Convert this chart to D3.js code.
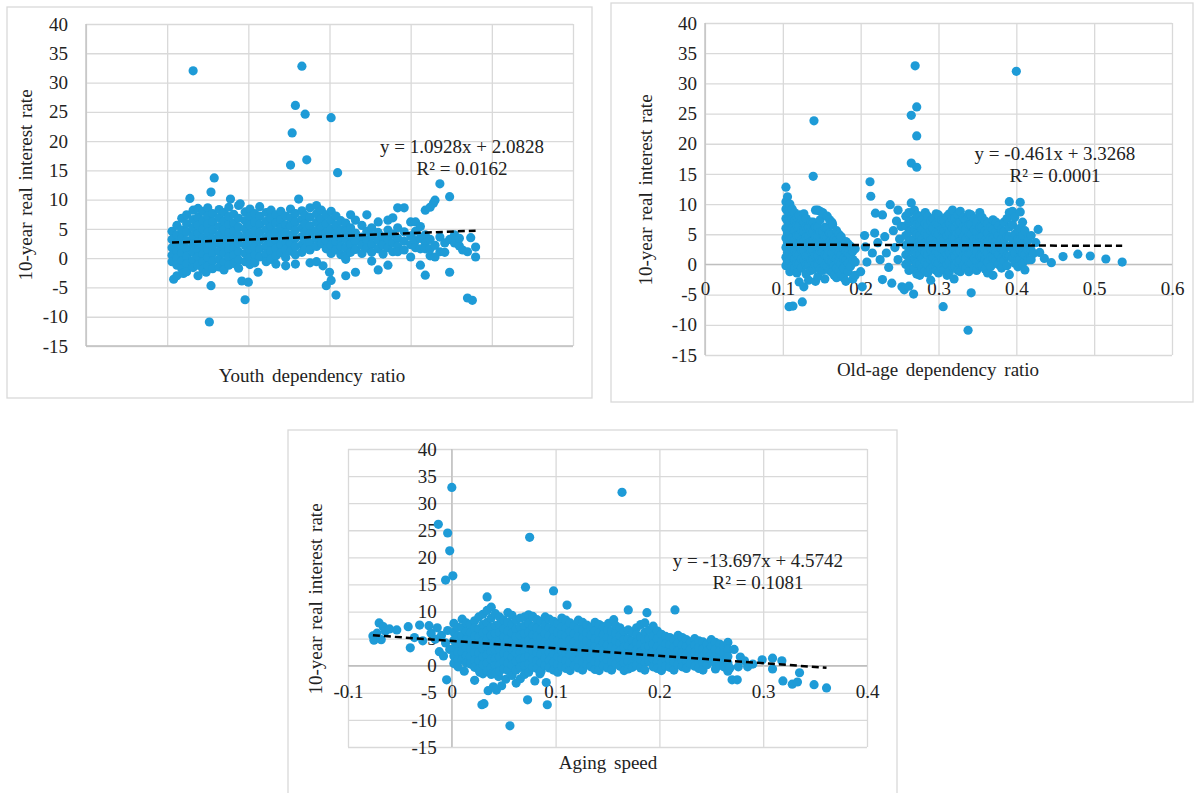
<!DOCTYPE html>
<html>
<head>
<meta charset="utf-8">
<script src="https://cdn.jsdelivr.net/npm/d3@7"></script>
<style>
  body { margin: 0; background: #fff; }
  svg { display: block; }
</style>
</head>
<body>
<div id="chart"></div>
<script>
/* global d3 */

// shared y axis
const yTicks = [-15, -10, -5, 0, 5, 10, 15, 20, 25, 30, 35, 40];
const yTickLabels = ['-15', '-10', '-5', '0', '5', '10', '15', '20', '25', '30', '35', '40'];

// youth dependency ratio: [x, [y values at that x]]
const youthXTicks = [0, 0.5, 1, 1.5, 2, 2.5, 3];
const youthColumns = [
  [0.53, [4.6, 3.2, 1.8, 0.5, -0.6]], [0.54, [-3.6]],
  [0.56, [5.6, 4.0, 2.6, 1.2, 0.0, -1.2, -3.0]],
  [0.59, [6.8, 4.8, 3.4, 2.0, 0.8, -0.5, -1.8]], [0.60, [-2.6]],
  [0.62, [7.4, 5.9, 4.5, 3.0, 1.6, 0.3, -1.0, -2.3]], [0.64, [10.2]],
  [0.66, [32.0, 8.2, 6.6, 5.2, 3.8, 2.4, 1.0, -0.4, -1.6]],
  [0.69, [8.5, 7.0, 5.6, 4.2, 2.8, 1.4, 0.2, -1.2, -3.0]],
  [0.72, [8.0, 6.4, 5.0, 3.5, 2.0, 0.7, -0.6, -1.9]], [0.74, [-2.4]],
  [0.75, [8.6, 7.2, 5.8, 4.4, 3.0, 1.5, 0.1, -1.3]], [0.76, [-10.9]],
  [0.77, [11.3, -4.7]],
  [0.78, [7.6, 6.2, 4.8, 3.4, 2.1, 0.8, -0.5, -1.8]], [0.79, [13.7]],
  [0.82, [8.3, 6.9, 5.4, 4.0, 2.6, 1.2, -0.2, -1.5]],
  [0.85, [7.8, 6.3, 4.9, 3.5, 2.2, 0.9, -0.6, -2.0]],
  [0.88, [8.7, 7.1, 5.7, 4.3, 2.9, 1.5, 0.2, -1.2]], [0.89, [10.1]],
  [0.91, [7.5, 6.0, 4.6, 3.2, 1.8, 0.5, -0.9]],
  [0.94, [9.0, 6.8, 5.3, 3.9, 2.5, 1.1, -0.3, -1.7]], [0.95, [9.3]], [0.96, [-3.9]],
  [0.98, [7.9, 6.4, 5.0, 3.6, 2.2, 0.8, -0.6, -7.1]], [1.00, [-4.1]],
  [1.01, [8.4, 7.0, 5.6, 4.1, 2.7, 1.3, 0.0, -1.1]],
  [1.04, [7.6, 6.1, 4.7, 3.3, 1.9, 0.5, -0.8]], [1.06, [-2.4]],
  [1.07, [8.8, 7.2, 5.8, 4.4, 3.0, 1.6, 0.2]],
  [1.11, [7.8, 6.3, 4.9, 3.5, 2.1, 0.7, -0.6]],
  [1.14, [8.2, 6.8, 5.4, 4.0, 2.6, 1.2, -0.2]],
  [1.17, [7.4, 6.0, 4.5, 3.1, 1.7, 0.4, -1.0]],
  [1.20, [8.0, 6.6, 5.2, 3.8, 2.3, 0.9]],
  [1.23, [7.2, 5.7, 4.3, 2.9, 1.5, 0.1, -1.3]],
  [1.26, [15.9, 8.4, 6.9, 5.5, 4.0, 2.6, 1.2]], [1.27, [21.4]],
  [1.29, [26.1, 7.6, 6.2, 4.8, 3.4, 2.0, 0.6, -1.0]], [1.31, [10.1]],
  [1.33, [32.8, 8.1, 6.6, 5.2, 3.7, 2.3, 1.0]],
  [1.35, [24.6, 7.3, 5.9, 4.5, 3.0, 1.7]], [1.36, [16.8]],
  [1.38, [8.6, 7.0, 5.5, 4.1, 2.6, 1.4, -0.8]],
  [1.42, [9.0, 7.6, 6.1, 4.7, 3.3, 2.0, -0.6]],
  [1.45, [8.2, 6.7, 5.3, 3.9, 2.5]], [1.46, [-1.3]],
  [1.48, [7.4, 5.9, 4.4, 3.0, 1.6, -4.7]], [1.50, [-2.4]],
  [1.51, [24.0, 8.0, 6.5, 5.0, 3.6, 2.2, 0.8, -3.8]],
  [1.54, [7.2, 5.6, 4.2, 2.8, 1.4, -6.3]], [1.55, [14.6]],
  [1.57, [6.4, 4.9, 3.4, 2.0, 0.6]],
  [1.60, [6.0, 4.6, 3.2, 1.8, 0.4, -0.2, -3.0]],
  [1.63, [7.4, 5.2, 3.8, 2.4, 1.0]],
  [1.66, [6.5, 4.3, 2.9, 1.5, -2.4]],
  [1.70, [5.6, 3.6, 2.2, 0.8]],
  [1.73, [7.4, 4.6, 3.1, 1.7]],
  [1.76, [5.2, 3.8, 2.4, 1.0, -0.5]],
  [1.80, [6.2, 4.4, 3.0, 1.6, -2.0]],
  [1.83, [3.6, 2.2, 0.7]],
  [1.86, [6.5, 4.8, 3.2, 1.8, -1.2]],
  [1.89, [6.9, 4.1, 2.6, 1.1]],
  [1.92, [8.6, 5.2, 3.4, 2.0, 1.1]],
  [1.96, [8.6, 4.5, 2.9, 1.4]],
  [2.00, [6.2, 3.8, 2.3, 0.2]],
  [2.03, [6.2, 4.6, 3.0, 1.8]],
  [2.06, [5.4, 3.4, 1.6, -1.2]],
  [2.09, [8.2, 4.0, 2.6, 1.6, -2.9]],
  [2.12, [8.7, 3.2, 1.6, 0.4]], [2.14, [9.4]],
  [2.15, [9.9, 2.2, 0.2]],
  [2.18, [12.7, 3.6, 1.1]],
  [2.21, [2.6, 1.0]],
  [2.24, [10.5, 3.2, -2.4]],
  [2.27, [4.0, 2.6]], [2.28, [3.1]],
  [2.30, [2.1, 3.4]], [2.32, [1.4]],
  [2.35, [1.1, -6.8]], [2.37, [3.5]], [2.38, [-7.2]],
  [2.40, [1.9, 0.2]]
];

// old-age dependency ratio
const oldAgeXTicks = [0, 0.1, 0.2, 0.3, 0.4, 0.5, 0.6];
const oldAgeXLabels = ['0', '0.1', '0.2', '0.3', '0.4', '0.5', '0.6'];
const oldAgeColumns = [
  [0.104, [12.8, 10.4, 9.2, 7.6, 6.0, 4.4, 2.8, 1.2, -0.2]],
  [0.106, [11.2, 8.8, 7.2, 5.2, 3.6, 2.0, 0.4]],
  [0.108, [-7.0]],
  [0.109, [10.0, 8.4, 6.8, 5.2, 3.6, 2.0, 0.5, -1.2]],
  [0.112, [9.2, 7.6, 6.0, 4.4, 2.8, 1.2, -0.3]],
  [0.113, [-6.9]],
  [0.115, [8.6, 7.2, 5.6, 4.0, 2.4, 0.9, -0.6]],
  [0.118, [7.8, 6.4, 4.8, 3.2, 1.6, 0.1, -1.4]],
  [0.121, [8.2, 6.4, 4.8, 3.2, 1.6, 0.1, -2.9]],
  [0.124, [7.4, 5.6, 4.0, 2.4, 0.9, -0.6]],
  [0.125, [-6.2]],
  [0.127, [8.4, 7.0, 5.4, 3.8, 2.2, 0.7, -3.7]],
  [0.130, [7.6, 6.2, 4.6, 3.0, 1.4, -0.1, -1.6]],
  [0.133, [6.2, 4.6, 3.0, 1.5, -0.2, -2.6]],
  [0.136, [7.0, 5.4, 3.8, 2.2, 0.7, -1.0]],
  [0.139, [14.6, 7.0, 5.4, 3.8, 2.3, 0.8, -0.8]],
  [0.140, [23.8]],
  [0.142, [9.0, 6.2, 4.6, 3.0, 1.5, 0.0, -2.8]],
  [0.145, [9.0, 6.2, 4.6, 3.0, 1.5, 0.0, -2.0]],
  [0.148, [8.8, 7.4, 5.4, 3.8, 2.2, 0.7, -0.8]],
  [0.151, [8.6, 5.4, 3.8, 2.2, 0.7, -1.0]], [0.152, [8.4]],
  [0.154, [6.2, 4.6, 3.0, 1.5, -0.2, -2.4]],
  [0.157, [8.0, 6.0, 4.5, 2.9, 1.4, -0.3]],
  [0.160, [7.4, 5.2, 3.7, 2.2, 0.6, -1.0]],
  [0.163, [7.0, 5.0, 3.5, 2.0, 0.5, -1.3]], [0.164, [6.6]],
  [0.166, [4.2, 2.8, 1.2, -0.2, -1.8]],
  [0.169, [5.6, 4.0, 2.5, 1.0, -0.6, -2.2]],
  [0.172, [5.0, 3.6, 2.0, 0.5, -1.0]],
  [0.175, [4.6, 3.1, 1.6, 0.1, -1.6]],
  [0.178, [2.6, 1.0, -0.6, -2.2]],
  [0.181, [3.8, 2.2, 0.7, -2.8]],
  [0.184, [3.4, 1.9, 0.2, -1.2]],
  [0.187, [3.0, 1.5, -0.3]],
  [0.190, [2.2, 0.8, -2.4]],
  [0.193, [2.6, 0.4, -1.8]],
  [0.200, [-1.2]], [0.202, [-3.7]], [0.205, [4.8]], [0.206, [2.9]], [0.208, [0.4]],
  [0.212, [13.7]], [0.213, [11.3]], [0.215, [1.9]], [0.218, [5.2]], [0.219, [8.5]],
  [0.222, [3.6]], [0.225, [0.8]], [0.228, [8.2, -2.5]], [0.231, [4.6]], [0.233, [1.9]],
  [0.236, [-0.5]], [0.238, [9.9]], [0.240, [-3.1]], [0.242, [5.6]], [0.244, [2.8]],
  [0.246, [7.2]], [0.248, [9.0, 0.8]], [0.250, [4.2]], [0.252, [6.3]], [0.253, [-3.7]],
  [0.256, [-4.2]],
  [0.258, [8.0, 6.4, 4.8, 3.2, 1.6, 0.0]],
  [0.262, [8.6, 7.0, 5.4, 3.8, 2.2, 0.6, -1.0, -3.6]],
  [0.265, [24.7, 16.8, 10.2, 7.2, 5.6, 4.0, 2.4, 0.8, -0.8]],
  [0.268, [-4.9]],
  [0.269, [9.0, 7.4, 5.8, 4.2, 2.6, 1.0, -0.6]],
  [0.270, [32.9]],
  [0.272, [26.1, 21.3, 16.1, 8.2, 6.6, 5.0, 3.4, 1.8, 0.2, -1.6]],
  [0.276, [8.0, 6.4, 4.8, 3.2, 1.6, 0.0, -1.8]],
  [0.279, [7.4, 5.8, 4.2, 2.6, 1.0, -0.6]],
  [0.283, [8.6, 6.8, 5.2, 3.6, 2.0, 0.4, -1.0]],
  [0.286, [8.0, 6.4, 4.8, 3.2, 1.6, 0.0, -1.4]],
  [0.290, [7.2, 5.6, 4.0, 2.4, 0.8, -0.8, -2.6]],
  [0.293, [7.6, 6.0, 4.4, 2.8, 1.2, -0.4]],
  [0.297, [8.4, 6.8, 5.2, 3.6, 2.0, 0.4, -1.0]],
  [0.300, [8.2, 6.6, 5.0, 3.4, 1.8, 0.2, -1.4]],
  [0.304, [7.4, 5.8, 4.2, 2.6, 1.0, -0.6]],
  [0.306, [-7.0]],
  [0.307, [7.2, 5.6, 4.0, 2.4, 0.8, -0.9]],
  [0.311, [8.0, 6.4, 4.8, 3.2, 1.6, 0.0, -1.8]],
  [0.314, [8.4, 6.8, 5.2, 3.6, 2.0, 0.4, -1.2]],
  [0.318, [9.0, 7.6, 6.0, 4.4, 2.8, 1.2, -0.4]],
  [0.320, [-2.4]],
  [0.321, [7.6, 6.0, 4.4, 2.8, 1.2, -0.4]],
  [0.325, [8.2, 6.8, 5.2, 3.6, 2.0, 0.4, -1.0]],
  [0.328, [8.8, 7.0, 5.4, 3.8, 2.2, 0.6, -1.2]],
  [0.332, [7.8, 6.2, 4.6, 3.0, 1.4, -0.2]],
  [0.335, [7.4, 5.8, 4.2, 2.6, 1.0, -0.6]], [0.338, [-10.9]],
  [0.339, [8.4, 6.6, 5.0, 3.4, 1.8, 0.2, -1.2]],
  [0.342, [8.2, 6.6, 5.0, 3.4, 1.8, 0.2, -4.7]],
  [0.346, [7.6, 5.8, 4.2, 2.6, 1.0, -0.6]],
  [0.349, [7.0, 5.4, 3.8, 2.2, 0.6, -1.0]],
  [0.353, [8.6, 6.2, 4.6, 3.0, 1.4, -0.2]],
  [0.356, [7.8, 6.2, 4.6, 3.0, 1.4, -0.2]],
  [0.360, [7.2, 5.6, 4.0, 2.4, 0.8, -0.8]],
  [0.363, [6.8, 5.2, 3.6, 2.0, 0.4, -1.4]],
  [0.367, [6.2, 4.4, 2.8, 1.2, -0.4]],
  [0.370, [7.4, 5.8, 4.2, 2.6, 1.0, -1.8]],
  [0.374, [7.0, 5.4, 3.8, 2.2, 0.6]],
  [0.377, [6.4, 4.8, 3.2, 1.6, 0.0]],
  [0.381, [5.8, 4.2, 2.6, 1.0, -0.6]],
  [0.384, [7.0, 5.4, 3.8, 2.2, 0.6]],
  [0.388, [7.6, 4.6, 3.0, 1.4, -0.2]],
  [0.391, [10.4, 8.6, 6.2, 4.6, 3.0, 1.4, -1.7]],
  [0.395, [8.8, 6.6, 4.2, 2.6, 1.0]],
  [0.398, [7.8, 5.0, 3.4, 1.8, 0.2]], [0.400, [32.0]],
  [0.402, [5.8, 4.2, 2.6, 1.0, -0.4]],
  [0.405, [10.3, 8.7, 6.0, 4.2, 2.6, 1.0]],
  [0.408, [7.0, 4.8, 3.4, 1.8, 0.2]],
  [0.411, [5.6, 3.2, 1.6, -0.9]],
  [0.415, [4.0, 2.4, 0.8]],
  [0.419, [4.8, 2.4, 0.8]], [0.422, [1.8]],
  [0.425, [3.6]], [0.428, [5.8]], [0.430, [2.0]], [0.436, [1.0]],
  [0.445, [0.3]], [0.460, [1.3]], [0.479, [1.7]], [0.495, [1.4]],
  [0.515, [0.9]], [0.536, [0.4]]
];

// aging speed
const agingXTicks = [-0.1, 0, 0.1, 0.2, 0.3, 0.4];
const agingXLabels = ['-0.1', '0', '0.1', '0.2', '0.3', '0.4'];
const agingColumns = [
  [-0.076, [5.5]], [-0.075, [4.7]], [-0.072, [6.0]], [-0.070, [7.9]], [-0.068, [4.8]],
  [-0.066, [7.2]], [-0.064, [6.4]], [-0.060, [6.8]], [-0.053, [6.6]], [-0.042, [7.2]],
  [-0.040, [3.3]], [-0.036, [5.2]], [-0.031, [7.5]], [-0.028, [4.6]], [-0.022, [7.4]],
  [-0.020, [6.0]], [-0.016, [4.9]], [-0.014, [7.0]], [-0.013, [26.1]], [-0.012, [2.6]],
  [-0.010, [5.6]], [-0.008, [1.8]], [-0.006, [15.8, 4.2]], [-0.005, [-2.6]],
  [-0.004, [24.5, 6.5]], [-0.002, [21.2, 3.0]], [0.000, [32.9]], [0.001, [16.6]],
  [0.002, [7.8, 6.2, 4.7, 3.2, 1.8, 0.4]],
  [0.006, [7.1, 5.5, 4.0, 2.5, 1.1, -0.2]],
  [0.010, [8.6, 7.0, 5.5, 4.0, 2.5, 1.1]], [0.012, [-1.0]],
  [0.014, [7.9, 6.3, 4.8, 3.3, 1.8, 0.5]],
  [0.018, [7.6, 6.1, 4.6, 3.1, 1.7, 0.3]],
  [0.022, [8.3, 6.9, 5.4, 3.9, 2.4, 1.0, -0.3, -2.7]],
  [0.026, [9.0, 6.8, 5.3, 3.8, 2.4, 0.9, -0.6]], [0.027, [-1.2]],
  [0.029, [-7.2]],
  [0.030, [9.5, 7.6, 6.1, 4.6, 3.1, 1.6, 0.2, -1.5]],
  [0.031, [-7.0]],
  [0.034, [12.7, 10.2, 8.0, 6.4, 4.9, 3.4, 2.0, 0.5, -1.0]], [0.035, [-4.6]],
  [0.038, [10.8, 8.8, 7.1, 5.6, 4.1, 2.6, 1.2, -0.4, -1.6]],
  [0.040, [-3.9]],
  [0.042, [9.6, 7.4, 5.9, 4.4, 2.9, 1.4, 0.0, -1.4]], [0.043, [-4.5]],
  [0.045, [-2.0]],
  [0.046, [9.0, 7.6, 6.1, 4.6, 3.1, 1.6, 0.1, -1.0]],
  [0.048, [-3.7]],
  [0.050, [8.4, 6.8, 5.3, 3.8, 2.3, 0.8, -0.6]], [0.052, [-2.5]],
  [0.054, [9.8, 8.0, 6.4, 4.9, 3.4, 1.9, 0.5, -0.9]],
  [0.056, [-11.1]],
  [0.058, [9.3, 7.6, 6.0, 4.5, 3.0, 1.5, 0.1, -1.8]],
  [0.062, [8.4, 6.8, 5.3, 3.8, 2.3, 0.8, -0.8, -3.2]],
  [0.066, [8.8, 7.1, 5.6, 4.1, 2.6, 1.2, -0.3, -2.4]],
  [0.070, [9.0, 7.4, 5.9, 4.4, 2.9, 1.4, 0.0, -1.6]],
  [0.071, [14.5]], [0.073, [-6.3]],
  [0.074, [9.4, 7.8, 6.2, 4.7, 3.2, 1.7, 0.3, -1.2]], [0.075, [23.7]],
  [0.078, [9.1, 7.2, 5.7, 4.2, 2.7, 1.2, -0.3]],
  [0.080, [-2.8]],
  [0.082, [8.5, 6.9, 5.4, 3.9, 2.4, 0.9, -0.5]], [0.085, [-1.5]],
  [0.086, [8.2, 6.6, 5.1, 3.6, 2.1, 0.6, -1.0]],
  [0.090, [9.0, 7.5, 5.9, 4.4, 2.9, 1.4, 0.0]], [0.091, [-3.1]], [0.092, [-7.2]],
  [0.094, [8.6, 7.0, 5.5, 4.0, 2.5, 1.0, -0.4]],
  [0.098, [13.8, 8.2, 6.6, 5.1, 3.6, 2.1, 0.7, -0.8]],
  [0.102, [7.8, 6.1, 4.6, 3.1, 1.6, 0.2, -1.2]],
  [0.106, [8.8, 7.2, 5.7, 4.2, 2.7, 1.2, -0.2]],
  [0.110, [8.4, 6.9, 5.4, 3.9, 2.4, 0.9, -0.5]],
  [0.111, [11.2]],
  [0.114, [7.9, 6.3, 4.8, 3.3, 1.9, 0.5, -0.9]],
  [0.118, [7.4, 5.9, 4.4, 2.9, 1.4, 0.0]],
  [0.122, [8.4, 6.8, 5.3, 3.8, 2.4, 1.0, -0.4]],
  [0.126, [8.0, 6.6, 5.1, 3.6, 2.1, 0.7, -0.8]],
  [0.130, [7.5, 6.0, 4.5, 3.0, 1.6, 0.2]],
  [0.134, [7.0, 5.6, 4.1, 2.7, 1.3, -0.2]],
  [0.138, [8.0, 6.4, 4.9, 3.5, 2.1, 0.7, -0.7]],
  [0.142, [7.6, 6.1, 4.6, 3.2, 1.8, 0.4, -0.9]],
  [0.146, [7.2, 5.7, 4.2, 2.8, 1.4, 0.0]],
  [0.150, [6.6, 5.2, 3.8, 2.4, 1.0, -0.4]],
  [0.151, [7.8]], [0.156, [8.5]],
  [0.154, [6.3, 4.8, 3.4, 2.0, 0.6, -0.8]],
  [0.158, [7.4, 5.9, 4.5, 3.1, 1.7, 0.3]],
  [0.162, [7.0, 5.5, 4.1, 2.7, 1.3, -0.1]], [0.164, [32.0]],
  [0.166, [6.3, 4.8, 3.4, 2.0, 0.6, -0.9]],
  [0.170, [10.3, 6.6, 5.0, 3.6, 2.2, 0.8, -0.6]],
  [0.174, [6.2, 4.6, 3.2, 1.8, 0.4, -0.3]],
  [0.178, [7.0, 5.7, 4.3, 2.9, 1.5, 0.1]],
  [0.182, [7.6, 5.3, 3.9, 2.5, 1.1, -0.4]],
  [0.186, [7.9, 6.2, 4.8, 3.4, 2.0, 0.6, -0.8]], [0.188, [9.8]],
  [0.190, [6.6, 5.0, 3.6, 2.2, 0.8]],
  [0.194, [7.3, 5.4, 4.0, 2.6, 1.2, -0.2]],
  [0.198, [6.4, 5.0, 3.5, 2.1, 0.7, -0.5]],
  [0.202, [5.8, 4.4, 3.0, 1.6, 0.3, -0.9]],
  [0.206, [5.4, 4.0, 2.6, 1.2, -0.1]],
  [0.210, [5.2, 3.8, 2.4, 1.0, -0.3]],
  [0.214, [4.8, 3.4, 2.0, 0.6, -0.8]], [0.215, [10.3]],
  [0.218, [5.6, 4.2, 2.8, 1.5, 0.2]],
  [0.222, [5.2, 3.8, 2.4, 1.0, -0.2]],
  [0.226, [4.8, 3.5, 2.1, 0.8, -0.5]],
  [0.230, [4.4, 3.1, 1.8, 0.4]],
  [0.234, [5.0, 3.8, 2.5, 1.2, -0.1]],
  [0.238, [4.6, 3.3, 2.0, 0.8, -0.5]],
  [0.242, [4.4, 3.1, 1.8, 0.5, -0.8]],
  [0.246, [4.0, 2.7, 1.4, 0.2]],
  [0.250, [4.8, 3.5, 2.2, 0.9]],
  [0.254, [4.3, 3.0, 1.7, 0.4, -0.6]],
  [0.258, [4.0, 2.7, 1.4, 0.1]],
  [0.262, [3.6, 2.3, 1.0, -0.2]],
  [0.266, [4.3, 3.0, 1.7, 0.5, -1.0]],
  [0.268, [-0.4]], [0.270, [-2.6]], [0.272, [3.0]], [0.275, [-2.6]], [0.276, [-0.2]],
  [0.278, [1.6]], [0.282, [0.9]], [0.285, [-0.2]], [0.290, [0.3]], [0.299, [1.1]],
  [0.309, [1.4, -0.6]], [0.318, [0.9]], [0.319, [-2.8]], [0.328, [-3.4]],
  [0.333, [-3.0]], [0.335, [-1.3]], [0.349, [-3.5]], [0.361, [-4.1]]
];

// Excel linear trendlines
const youthTrend = { slope: 1.0928, intercept: 2.0828, eq: 'y = 1.0928x + 2.0828', r2: 'R² = 0.0162' };
const oldAgeTrend = { slope: -0.461, intercept: 3.3268, eq: 'y = -0.461x + 3.3268', r2: 'R² = 0.0001' };
const agingTrend = { slope: -13.697, intercept: 4.5742, eq: 'y = -13.697x + 4.5742', r2: 'R² = 0.1081' };

const FONT = '"Liberation Serif", "Times New Roman", serif';
const DOT = '#1e9bd7';
const GRID = '#d9d9d9';
const AXIS = '#bfbfbf';

const svg = d3.select('#chart').append('svg')
    .attr('width', 1194)
    .attr('height', 793)
    .style('font-family', FONT);

function drawScatter(cfg) {
    const p = cfg.plot;
    const g = svg.append('g');

    g.append('rect')
        .attr('x', cfg.box[0]).attr('y', cfg.box[1])
        .attr('width', cfg.box[2]).attr('height', cfg.box[3])
        .attr('fill', '#fff')
        .attr('stroke', GRID)
        .attr('stroke-width', 1.3);

    const x = d3.scaleLinear().domain(cfg.xDomain).range([p.left, p.right]);
    const y = d3.scaleLinear().domain([-15, 40]).range([p.bottom, p.top]);

    // gridlines
    g.append('g')
        .attr('transform', `translate(${p.left},0)`)
        .call(d3.axisLeft(y).tickValues(yTicks).tickSize(-(p.right - p.left)).tickFormat(''))
        .call(s => s.select('.domain').remove())
        .selectAll('line').attr('stroke', GRID).attr('stroke-width', 1.3);

    g.append('g')
        .attr('transform', `translate(0,${p.bottom})`)
        .call(d3.axisBottom(x).tickValues(cfg.xTicks).tickSize(-(p.bottom - p.top)).tickFormat(''))
        .call(s => s.select('.domain').remove())
        .selectAll('line').attr('stroke', GRID).attr('stroke-width', 1.3);

    // axis lines
    g.append('line')
        .attr('x1', p.left).attr('x2', p.right)
        .attr('y1', y(cfg.xCross)).attr('y2', y(cfg.xCross))
        .attr('stroke', AXIS).attr('stroke-width', 1.3);
    g.append('line')
        .attr('x1', x(cfg.yCross)).attr('x2', x(cfg.yCross))
        .attr('y1', p.top).attr('y2', p.bottom)
        .attr('stroke', AXIS).attr('stroke-width', 1.3);

    // tick labels
    const yAxisG = g.append('g')
        .attr('transform', `translate(${x(cfg.yCross)},0)`)
        .call(d3.axisLeft(y).tickValues(yTicks).tickSize(0).tickPadding(cfg.yPad)
            .tickFormat((d, i) => yTickLabels[i]))
        .attr('font-family', FONT)
        .attr('font-size', 19);
    yAxisG.select('.domain').remove();
    yAxisG.selectAll('text')
        .style('font-family', FONT).style('font-size', '19px').attr('fill', '#222');

    if (cfg.xLabels) {
        const xAxisG = g.append('g')
            .attr('transform', `translate(0,${y(cfg.xCross)})`)
            .call(d3.axisBottom(x).tickValues(cfg.xTicks).tickSize(0).tickPadding(cfg.xPad)
                .tickFormat((d, i) => cfg.xLabels[i]))
            .attr('font-family', FONT)
            .attr('font-size', 19);
        xAxisG.select('.domain').remove();
        xAxisG.selectAll('text')
            .style('font-family', FONT).style('font-size', '19px').attr('fill', '#222');
    }

    // points
    const points = cfg.columns.flatMap(c => c[1].map(v => ({ x: c[0], y: v })));
    g.append('g').selectAll('circle').data(points)
        .enter()
        .append('circle')
        .attr('cx', d => x(d.x))
        .attr('cy', d => y(d.y))
        .attr('r', 4.6)
        .attr('fill', DOT);

    // trendline over the data extent
    const t = cfg.trend;
    const ext = d3.extent(points, d => d.x);
    g.append('line')
        .attr('x1', x(ext[0])).attr('y1', y(t.slope * ext[0] + t.intercept))
        .attr('x2', x(ext[1])).attr('y2', y(t.slope * ext[1] + t.intercept))
        .attr('stroke', '#000')
        .attr('stroke-width', 2.5)
        .attr('stroke-dasharray', '7,4');

    g.append('text')
        .attr('x', cfg.eqPos[0]).attr('y', cfg.eqPos[1])
        .attr('text-anchor', 'middle')
        .attr('font-size', 19).attr('fill', '#222')
        .text(t.eq);
    g.append('text')
        .attr('x', cfg.eqPos[0]).attr('y', cfg.eqPos[1] + 22)
        .attr('text-anchor', 'middle')
        .attr('font-size', 19).attr('fill', '#222')
        .text(t.r2);

    // axis titles
    g.append('text')
        .attr('transform', `translate(${cfg.yTitlePos[0]},${cfg.yTitlePos[1]}) rotate(-90)`)
        .attr('text-anchor', 'middle')
        .attr('font-size', 19).attr('fill', '#222')
        .attr('word-spacing', 2)
        .text('10-year real interest rate');

    g.append('text')
        .attr('x', cfg.xTitlePos[0]).attr('y', cfg.xTitlePos[1])
        .attr('text-anchor', 'middle')
        .attr('font-size', 19).attr('fill', '#222')
        .attr('word-spacing', 3)
        .text(cfg.xTitle);
}

drawScatter({
    box: [7, 7, 585, 391],
    plot: { left: 86, top: 24, right: 573, bottom: 346 },
    xDomain: [0, 3], xTicks: youthXTicks, xLabels: null,
    xCross: -15, yCross: 0, yPad: 18, xPad: 0,
    columns: youthColumns, trend: youthTrend,
    eqPos: [462, 153],
    yTitlePos: [32, 185],
    xTitle: 'Youth dependency ratio', xTitlePos: [312, 382]
});

drawScatter({
    box: [611, 3, 582, 399],
    plot: { left: 705, top: 23, right: 1172, bottom: 355 },
    xDomain: [0, 0.6], xTicks: oldAgeXTicks, xLabels: oldAgeXLabels,
    xCross: 0, yCross: 0, yPad: 8, xPad: 17,
    columns: oldAgeColumns, trend: oldAgeTrend,
    eqPos: [1055, 160],
    yTitlePos: [652, 190],
    xTitle: 'Old-age dependency ratio', xTitlePos: [938, 376]
});

drawScatter({
    box: [288, 430, 609, 380],
    plot: { left: 348, top: 449, right: 867, bottom: 747 },
    xDomain: [-0.1, 0.4], xTicks: agingXTicks, xLabels: agingXLabels,
    xCross: 0, yCross: 0, yPad: 15, xPad: 19,
    columns: agingColumns, trend: agingTrend,
    eqPos: [758, 567],
    yTitlePos: [322, 599],
    xTitle: 'Aging speed', xTitlePos: [608, 769]
});
</script>
</body>
</html>
